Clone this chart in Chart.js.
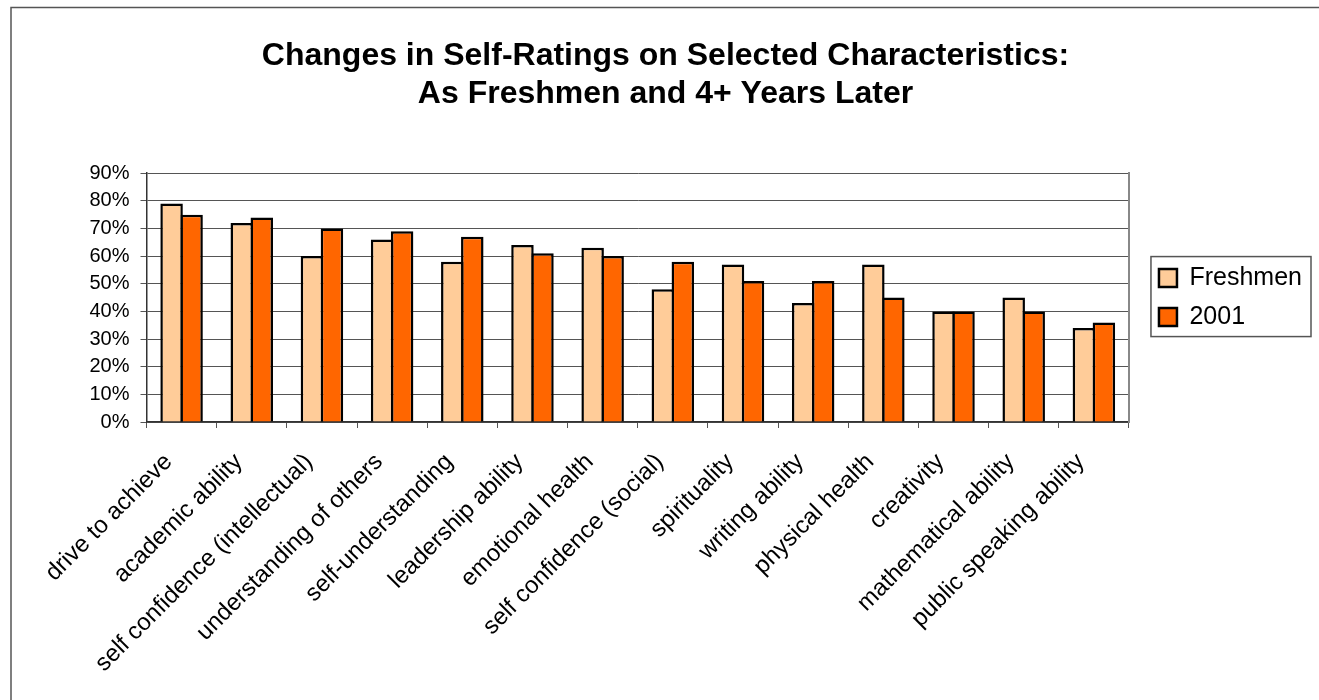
<!DOCTYPE html>
<html>
<head>
<meta charset="utf-8">
<script src="https://cdn.jsdelivr.net/npm/chart.js@4"></script>
<style>
  html, body { margin: 0; padding: 0; background: #fff; }
  #wrap { width: 1319px; height: 700px; }
</style>
</head>
<body>
<div id="wrap"><canvas id="ratingsChart"></canvas></div>
<script>
// data (percent)
const categories = ['drive to achieve', 'academic ability', 'self confidence (intellectual)',
  'understanding of others', 'self-understanding', 'leadership ability', 'emotional health',
  'self confidence (social)', 'spirituality', 'writing ability', 'physical health',
  'creativity', 'mathematical ability', 'public speaking ability'];
const freshmen = [79, 72, 60, 66, 58, 64, 63, 48, 57, 43, 57, 40, 45, 34];
const year2001 = [75, 74, 70, 69, 67, 61, 60, 58, 51, 51, 45, 40, 40, 36];
const seriesNames = ['Freshmen', '2001'];
const titleLines = ['Changes in Self-Ratings on Selected Characteristics:', 'As Freshmen and 4+ Years Later'];

const FONT = "'Liberation Sans', Arial, sans-serif";

// white background, outer frame, box round the legend
const framePlugin = {
  id: 'frame',
  beforeDraw(chart) {
    const ctx = chart.ctx;
    ctx.save();
    ctx.fillStyle = '#fff';
    ctx.fillRect(0, 0, chart.width, chart.height);
    ctx.strokeStyle = '#555';
    ctx.lineWidth = 1.5;
    ctx.strokeRect(11, 7.5, chart.width + 50, chart.height + 50);
    ctx.restore();
  },
  afterDraw(chart) {
    const lg = chart.legend;
    const boxes = lg.legendHitBoxes;
    if (!boxes || !boxes.length) return;
    const first = boxes[0], last = boxes[boxes.length - 1];
    const x0 = first.left - 8, y0 = first.top - 9;
    const x1 = lg.right - 1, y1 = last.top + last.height + 7;
    const ctx = chart.ctx;
    ctx.save();
    ctx.strokeStyle = '#555';
    ctx.lineWidth = 1.5;
    ctx.strokeRect(x0, y0, x1 - x0, y1 - y0);
    ctx.restore();
  }
};

new Chart(document.getElementById('ratingsChart'), {
  type: 'bar',
  data: {
    labels: categories,
    datasets: [{
      label: seriesNames[0],
      data: freshmen,
      backgroundColor: '#FFCC99',
      borderColor: '#000',
      borderWidth: 2.5,
      categoryPercentage: 0.57,
      barPercentage: 1.125
    }, {
      label: seriesNames[1],
      data: year2001,
      backgroundColor: '#FF6600',
      borderColor: '#000',
      borderWidth: 2.5,
      categoryPercentage: 0.57,
      barPercentage: 1.125
    }]
  },
  options: {
    responsive: true,
    maintainAspectRatio: false,
    animation: false,
    layout: { padding: { left: 19, right: 7, top: 8, bottom: 0 } },
    plugins: {
      tooltip: { enabled: false },
      title: {
        display: true,
        text: titleLines,
        color: '#000',
        font: { family: FONT, size: 32, weight: 'bold', lineHeight: 1.19 },
        padding: { top: 29, bottom: 60 }
      },
      legend: {
        display: true,
        position: 'right',
        fullSize: false,
        labels: {
          color: '#000',
          font: { family: FONT, size: 25 },
          boxWidth: 18,
          boxHeight: 18,
          padding: 14
        }
      }
    },
    scales: {
      x: {
        ticks: {
          autoSkip: false,
          minRotation: 45,
          maxRotation: 45,
          color: '#000',
          font: { family: FONT, size: 24 },
          padding: 20,
          labelOffset: -13
        },
        grid: { offset: true, drawOnChartArea: false, tickLength: 6, color: '#555' },
        border: { color: '#333', width: 1.5 },
        afterFit: (scale) => { scale.height = 278; }
      },
      y: {
        min: 0,
        max: 90,
        ticks: {
          stepSize: 10,
          color: '#000',
          font: { family: FONT, size: 20 },
          padding: 11,
          callback: (v) => v + '%'
        },
        grid: { color: '#555', tickLength: 6 },
        border: { color: '#333', width: 1.5 },
        afterFit: (scale) => { scale.width = 127.5; }
      },
      yRight: {
        position: 'right',
        min: 0,
        max: 90,
        ticks: { display: false },
        grid: { display: false },
        border: { display: true, color: '#888', width: 2 },
        afterFit: (scale) => { scale.width = 16; }
      }
    }
  },
  plugins: [framePlugin]
});
</script>
</body>
</html>
